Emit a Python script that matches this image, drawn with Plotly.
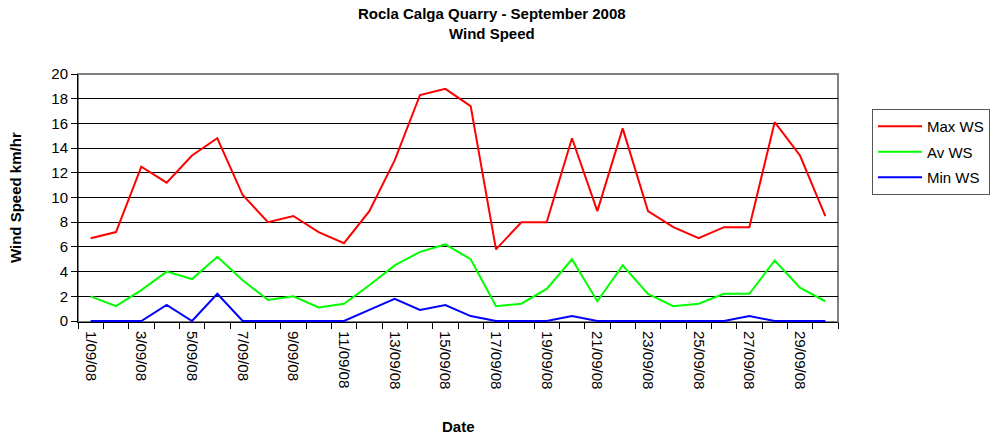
import plotly.graph_objects as go

dates = [f"{d}/09/08" for d in range(1, 31)]
max_ws = [6.7, 7.2, 12.5, 11.2, 13.4, 14.8, 10.2, 8.0, 8.5, 7.2, 6.3, 8.9, 13.0, 18.3, 18.8,
          17.4, 5.8, 8.0, 8.0, 14.8, 8.9, 15.6, 8.9, 7.6, 6.7, 7.6, 7.6, 16.1, 13.4, 8.5]
av_ws = [2.0, 1.2, 2.5, 4.0, 3.4, 5.2, 3.3, 1.7, 2.0, 1.1, 1.4, 2.9, 4.5, 5.6, 6.2,
         5.0, 1.2, 1.4, 2.6, 5.0, 1.6, 4.5, 2.2, 1.2, 1.4, 2.2, 2.2, 4.9, 2.7, 1.6]
min_ws = [0, 0, 0, 1.3, 0, 2.2, 0, 0, 0, 0, 0, 0.9, 1.8, 0.9, 1.3,
          0.4, 0, 0, 0, 0.4, 0, 0, 0, 0, 0, 0, 0.4, 0, 0, 0]
series = [("Max WS", max_ws, "#ff0000"), ("Av WS", av_ws, "#00ff00"), ("Min WS", min_ws, "#0000ff")]
y_ticks = list(range(0, 21, 2))

xi = list(range(len(dates)))
FONT = "Liberation Sans, Arial, sans-serif"
W, H = 1002, 440
L, R, T, B = 78, 164, 74, 118
PW, PH = W - L - R, H - T - B


def px_x(x):
    return (x - L) / PW


def px_y(y):
    return (H - B - y) / PH


fig = go.Figure()
for i, (name, vals, col) in enumerate(series):
    fig.add_trace(go.Scatter(x=xi, y=vals, mode="lines", name=name,
                             line=dict(color=col, width=2), legendgroup=str(i)))

fig.update_layout(
    width=W, height=H,
    margin=dict(l=L, r=R, t=T, b=B, autoexpand=False),
    paper_bgcolor="white", plot_bgcolor="white",
    font=dict(family=FONT, size=15, color="black"),
    showlegend=True,
    legend=dict(x=px_x(872), y=px_y(109), xanchor="left", yanchor="top",
                bordercolor="#555", borderwidth=1, font=dict(size=15),
                tracegroupgap=3, itemwidth=44),
)

fig.update_xaxes(
    range=[-0.5, len(dates) - 0.5], automargin=False,
    tickvals=xi[::2], ticktext=dates[::2], tickangle=90, ticklabelstandoff=5,
    tickfont=dict(size=15), ticks="", showgrid=False, zeroline=False,
    showline=True, linecolor="black", linewidth=1, layer="below traces",
    minor=dict(tickvals=[k - 0.5 for k in range(len(dates) + 1)], ticks="outside",
               ticklen=6, tickcolor="black", showgrid=False),
)
fig.update_yaxes(
    range=[-0.08, 20], automargin=False, tickvals=y_ticks, ticks="outside", ticklen=6,
    tickcolor="black", tickfont=dict(size=15), showgrid=True, gridcolor="black", gridwidth=1,
    zeroline=False, showline=True, linecolor="black", linewidth=1, layer="below traces",
)
fig.add_shape(type="rect", xref="paper", yref="paper", x0=0, y0=0, x1=1, y1=1,
              line=dict(color="#808080", width=2), layer="below")

fig.add_annotation(text="<b>Rocla Calga Quarry - September 2008<br>Wind Speed</b>",
                   xref="paper", yref="paper", x=px_x(492), y=px_y(3),
                   xanchor="center", yanchor="top", showarrow=False,
                   font=dict(size=15, family=FONT))
fig.add_annotation(text="<b>Date</b>", xref="paper", yref="paper", x=px_x(459), y=px_y(426),
                   xanchor="center", yanchor="middle", showarrow=False, font=dict(size=15))
fig.add_annotation(text="<b>Wind Speed km/hr</b>", xref="paper", yref="paper",
                   x=px_x(15), y=px_y(198), xanchor="center", yanchor="middle",
                   textangle=-90, showarrow=False, font=dict(size=15))

fig.write_html("out.html", config={"displayModeBar": False},
               post_script="document.body.style.margin='0';document.body.style.overflow='hidden';")
